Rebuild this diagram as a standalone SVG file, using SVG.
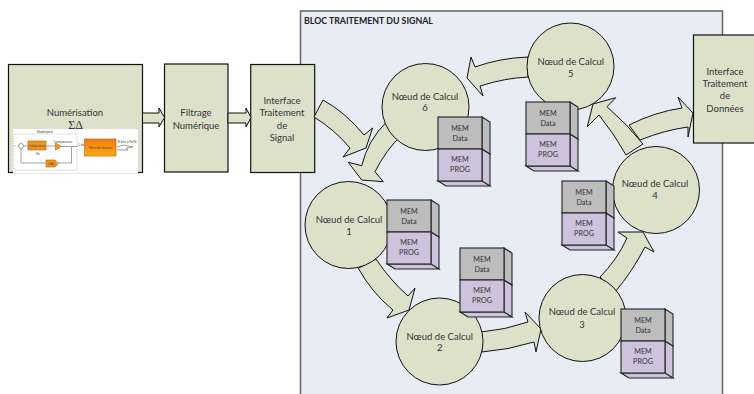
<svg xmlns="http://www.w3.org/2000/svg" width="754" height="394" viewBox="0 0 754 394">
<style>
.box,.node,.arr{fill:#dde1c9;stroke:#111;stroke-width:1}
.box{stroke-width:1.2}
.t{font-family:"Lato","Open Sans",sans-serif;font-size:9.5px;fill:#333;text-anchor:middle}
.m{font-family:"Lato","Open Sans",sans-serif;font-size:7.2px;fill:#333;text-anchor:middle}
.d{fill:#bdbdbd;stroke:#222;stroke-width:1.1}
.p{fill:#cdc3dc;stroke:#222;stroke-width:1.1}
.s{font-family:"Liberation Sans",sans-serif;font-size:3.2px;fill:#444;text-anchor:middle}
.o{fill:#f5931a;stroke:#a65d10;stroke-width:.6}
.w{fill:none;stroke:#777;stroke-width:.7}
</style>
<defs>
<linearGradient id="fg" x1="0" y1="0" x2="0" y2="1"><stop offset="0" stop-color="#f47a10"/><stop offset="1" stop-color="#fbab12"/></linearGradient>
<g id="mem">
<path class="p" d="M44 32l8 5v32l-8-5zM0 64l8 5h44l-8-5z"/>
<path class="d" d="M44 0l8 5v32l-8-5z"/>
<rect class="d" width="44" height="32"/>
<rect class="p" y="32" width="44" height="32"/>
<text class="m" x="22" y="13.500">MEM</text><text class="m" x="22" y="23.500">Data</text>
<text class="m" x="22" y="45">MEM</text><text class="m" x="22" y="55">PROG</text>
</g>
</defs>
<rect id="bloc" x="300.500" y="11" width="422" height="384" fill="#e8edf5" stroke="#666" stroke-width="1.5"/>
<text x="304" y="24" font-family="Lato,sans-serif" font-size="8.800" font-weight="700" fill="#222">BLOC TRAITEMENT DU SIGNAL</text>
<g id="num"><rect class="box" x="8.500" y="64.500" width="134" height="108"/>
<text class="t" x="75" y="115.500">Numérisation</text>
<text x="75.500" y="129" font-family="Liberation Serif,serif" font-size="12" fill="#333" text-anchor="middle">ΣΔ</text>
<rect x="13" y="129" width="125" height="44" fill="#fff"/>
<rect x="14" y="134" width="63" height="36" fill="none" stroke="#aaa" stroke-width=".6" stroke-dasharray="1.500 1"/>
<path class="w" d="M23.500 146H28M46 146H55M62 146.500H78M21 148.500V163H46M58 163H71.500V147"/>
<path d="M13 146H18.500" fill="none" stroke="#e8c860" stroke-width=".7"/>
<path class="w" d="M117 147L124 145L133 147L126 148L128 150L117 150"/>
<circle cx="21" cy="146" r="2.500" fill="#fff" stroke="#555" stroke-width=".6"/>
<rect class="o" x="28" y="141" width="18" height="9"/>
<path class="o" d="M55.500 143l6 3.500-6 3.500z"/>
<path class="o" d="M46 160h9l3 3.500-3 3.500h-9z"/>
<rect x="84.500" y="139" width="31.500" height="17" fill="url(#fg)" stroke="#a65d10" stroke-width=".6"/>
<text class="s" x="37" y="147">Intégrateur</text><text class="s" x="45" y="133">Modulateur</text><text class="s" x="63" y="143">Comparateur</text><text class="s" x="51.500" y="164.500">DAC</text><text class="s" x="100.500" y="148.500">Filtre décimateur</text><text class="s" x="127" y="143">N bits à Fe/N</text><text class="s" x="81" y="146">1 bit</text><text class="s" x="38" y="155">Fe</text>
</g>
<g id="filt"><rect class="box" x="164.500" y="64" width="63.500" height="108"/>
<text class="t" x="196" y="115.500">Filtrage</text><text class="t" x="196" y="128.500">Numérique</text></g>
<g id="ifs"><rect class="box" x="250.700" y="64.500" width="64" height="108"/>
<text class="t" x="282" y="103.500">Interface</text><text class="t" x="282" y="115.500">Traitement</text><text class="t" x="282" y="128.500">de</text><text class="t" x="282" y="140.500">Signal</text></g>
<g id="ifd"><rect class="box" x="693.500" y="35" width="62" height="108"/>
<text class="t" x="725" y="74.500">Interface</text><text class="t" x="725" y="86.500">Traitement</text><text class="t" x="725" y="98.500">de</text><text class="t" x="725" y="111.500">Données</text></g>
<g id="connectors">
<path class="arr" d="M142.500 113H159V108L164.500 117.500L159 127V123H142.500Z"/>
<path class="arr" d="M228 113H246V108L251 117.500L246 127V123H228Z"/>
<path class="arr" d="M314 117L323 100Q345 112 364 135L372.600 128L366 148L343 157L350 148Q335 130 314 117Z"/>
<path class="arr" d="M386.700 121.700L401.700 135Q386 150 375 171.700L383.300 181.700L361.700 180L348.300 162.300L361.700 165.700Q368 140 386.700 121.700Z"/>
<path class="arr" d="M528 57Q500 58 475 67L471 57L467 78L483 96L480 86Q505 78 528 77Z"/>
<path class="arr" d="M629 125Q655 112 682 108L678 97L693 113L688 137L688 127Q665 130 640 140Z"/>
<path class="arr" d="M626 155Q615 135 599 115L587.300 126.700L593 104L615.700 97.700L607 106.700Q628 125 643 144Z"/>
<path class="arr" d="M600 277Q617 260 627 238L618 232L643 232L654 252L645 247Q632 272 615 292Z"/>
<path class="arr" d="M481 332Q505 330 528 322L525 312L541 329L536 352L534 342Q508 350 482 352Z"/>
<path class="arr" d="M358.300 268.300L376 259Q390 280 408 296L415 288L409 310L387 318L393 310Q372 293 358.300 268.300Z"/>
</g>
<g id="n6"><circle class="node" cx="425.500" cy="107" r="43.500"/><text class="t" x="425" y="99.500">Nœud de Calcul</text><text class="t" x="425" y="110.500">6</text></g>
<g id="n5"><circle class="node" cx="570.500" cy="66.500" r="43.500"/><text class="t" x="570.700" y="64.500">Nœud de Calcul</text><text class="t" x="570.700" y="76.500">5</text></g>
<g id="n4"><circle class="node" cx="656" cy="190" r="43.500"/><text class="t" x="655" y="187">Nœud de Calcul</text><text class="t" x="655" y="199">4</text></g>
<g id="n3"><circle class="node" cx="582.500" cy="318" r="43.500"/><text class="t" x="582" y="315">Nœud de Calcul</text><text class="t" x="582" y="328">3</text></g>
<g id="n2"><circle class="node" cx="439.500" cy="341.500" r="43.500"/><text class="t" x="439.700" y="339.500">Nœud de Calcul</text><text class="t" x="439.700" y="351">2</text></g>
<g id="n1"><circle class="node" cx="348.500" cy="225" r="43.500"/><text class="t" x="349" y="222.500">Nœud de Calcul</text><text class="t" x="349" y="234.500">1</text></g>
<g id="mem6"><use href="#mem" x="438" y="117"/></g>
<g id="mem5"><use href="#mem" x="526" y="102"/></g>
<g id="mem1"><use href="#mem" x="387" y="200"/></g>
<g id="mem2"><use href="#mem" x="460" y="248"/></g>
<g id="mem4"><use href="#mem" x="562" y="181"/></g>
<g id="mem3"><use href="#mem" x="621" y="309"/></g>
</svg>
